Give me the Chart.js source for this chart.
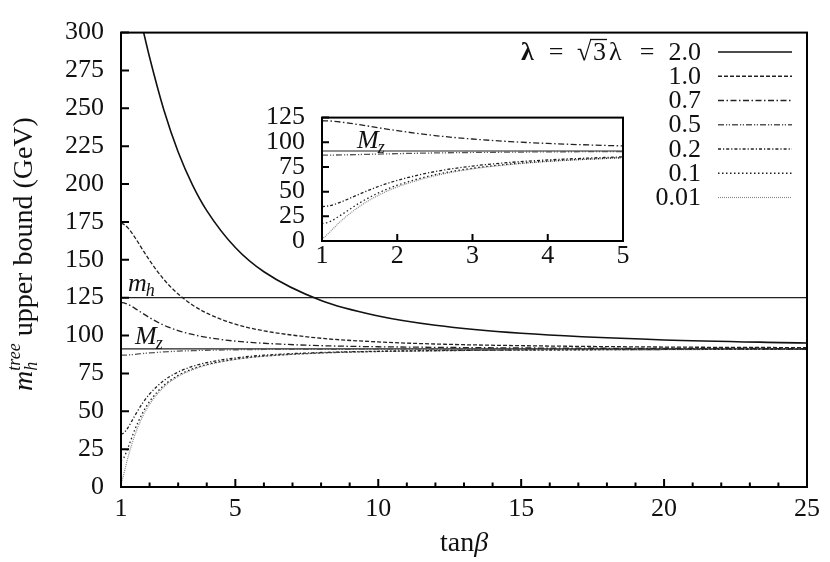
<!DOCTYPE html>
<html>
<head>
<meta charset="utf-8">
<script src="https://cdn.jsdelivr.net/npm/chart.js@4.4.1/dist/chart.umd.min.js"></script>
<style>
  html, body { margin: 0; padding: 0; background: #fff; }
  #wrap { position: relative; width: 830px; height: 562px; }
  #mainChart { position: absolute; left: 0; top: 0; }
  #insetChart { position: absolute; left: 250px; top: 85px; }
</style>
</head>
<body>
<div id="wrap">
  <canvas id="mainChart" width="830" height="562"></canvas>
  <canvas id="insetChart" width="390" height="190"></canvas>
</div>
<script>
'use strict'
// tree level upper bound of m_h vs tan(beta), one curve per lambda

const tanBeta = [1, 1.1, 1.25, 1.5, 1.75, 2, 2.5, 3, 3.5, 4, 5, 6, 8, 10, 12, 15, 20, 25];
const lambdaLabels = ['2.0', '1.0', '0.7', '0.5', '0.2', '0.1', '0.01'];

const bound20 = [348, 346.5, 340.1, 323.1, 303.4, 283.7, 248.9, 221.2, 199.5, 182.5, 158.1, 142.1, 123.1, 112.9, 106.8, 101.5, 97.1, 95.1];
const bound10 = [174.0, 173.4, 170.9, 164.4, 156.9, 149.6, 137.0, 127.4, 120.2, 114.8, 107.5, 103.1, 98.2, 95.8, 94.4, 93.3, 92.4, 92.0];
const bound07 = [121.8, 121.6, 120.5, 117.8, 114.7, 111.8, 106.8, 103.3, 100.7, 98.8, 96.3, 94.9, 93.3, 92.6, 92.2, 91.8, 91.5, 91.4];
const bound05 = [87.0, 87.0, 87.2, 87.6, 88.1, 88.5, 89.2, 89.7, 90.0, 90.3, 90.6, 90.8, 90.9, 91.0, 91.1, 91.1, 91.2, 91.2];
const bound02 = [34.8, 35.7, 39.4, 47.6, 55.2, 61.4, 70.3, 75.9, 79.6, 82.1, 85.2, 87.0, 88.8, 89.6, 90.1, 90.5, 90.8, 90.9];
const bound01 = [17.4, 19.4, 26.2, 38.6, 48.7, 56.5, 67.1, 73.7, 78.0, 80.9, 84.4, 86.4, 88.5, 89.5, 90.0, 90.4, 90.8, 90.9];
const bound001 = [1.7, 8.8, 20.1, 35.1, 46.3, 54.7, 66.0, 73.0, 77.4, 80.5, 84.2, 86.3, 88.4, 89.4, 89.9, 90.4, 90.7, 90.9];
const seriesValues = [bound20, bound10, bound07, bound05, bound02, bound01, bound001];

const MH = 125;     // m_h line
const MZ = 91.19;   // M_z line

const xMajorTicks = [1, 5, 10, 15, 20, 25];
const yTicks = [0, 25, 50, 75, 100, 125, 150, 175, 200, 225, 250, 275, 300];
const insetXTicks = [1, 2, 3, 4, 5];
const insetYTicks = [0, 25, 50, 75, 100, 125];
const insetLabels = ['0.7', '0.5', '0.2', '0.1', '0.01']; // curves shown in the zoom box

// styles
const serif = "'Liberation Serif', 'Times New Roman', serif";
const lineStyles = [
    { color: '#111', width: 1.6, dash: [] },
    { color: '#222', width: 1.3, dash: [4, 2] },
    { color: '#222', width: 1.3, dash: [6, 2.5, 1.5, 2.5] },
    { color: '#555', width: 1.3, dash: [6, 2, 1.2, 1.6, 1.2, 2] },
    { color: '#222', width: 1.3, dash: [3, 2, 1.2, 2] },
    { color: '#222', width: 1.3, dash: [1.5, 2.5] },
    { color: '#888', width: 1.2, dash: [1, 1] }
];

function pointsOf(values) {
    return tanBeta.map((t, i) => ({ x: t, y: values[i] }));
}

function curveDataset(i) {
    let st = lineStyles[i];
    return {
        label: lambdaLabels[i],
        data: pointsOf(seriesValues[i]),
        borderColor: st.color,
        borderWidth: st.width,
        borderDash: st.dash,
        pointRadius: 0,
        fill: false,
        cubicInterpolationMode: 'monotone'
    };
}

function flatLine(value, from, to) {
    return {
        label: 'ref',
        data: [{ x: from, y: value }, { x: to, y: value }],
        borderColor: '#222',
        borderWidth: 1.1,
        pointRadius: 0,
        fill: false
    };
}

// italic symbol with a subscript (m_h, M_z)
function drawSub(ctx, base, sub, x, y) {
    ctx.font = 'italic 26px ' + serif;
    ctx.textAlign = 'left';
    ctx.textBaseline = 'alphabetic';
    ctx.fillText(base, x, y);
    let w = ctx.measureText(base).width;
    ctx.font = 'italic 18px ' + serif;
    ctx.fillText(sub, x + w - 1, y + 5);
}

function drawFrame(ctx, a, x, y, yVals, xVals, majorLen, minorLen, isMajor) {
    ctx.save();
    ctx.strokeStyle = '#000';
    ctx.lineWidth = 2;
    ctx.strokeRect(a.left, a.top, a.right - a.left, a.bottom - a.top);
    ctx.beginPath();
    for (let v of yVals) {
        let py = y.getPixelForValue(v);
        ctx.moveTo(a.left, py);
        ctx.lineTo(a.left + majorLen, py);
    }
    for (let t of xVals) {
        let px = x.getPixelForValue(t);
        let len = isMajor(t) ? majorLen : minorLen;
        ctx.moveTo(px, a.bottom);
        ctx.lineTo(px, a.bottom - len);
    }
    ctx.stroke();
    ctx.restore();
}

const mainDecor = {
    id: 'mainDecor',
    afterDatasetsDraw(chart) {
        let ctx = chart.ctx;
        let a = chart.chartArea;
        let x = chart.scales.x;
        let y = chart.scales.y;

        let minor = [];
        for (let t = xMajorTicks[0] + 1; t < xMajorTicks[xMajorTicks.length - 1]; t++) minor.push(t);
        drawFrame(ctx, a, x, y, yTicks, minor, 8, 4.5, t => xMajorTicks.includes(t));

        ctx.save();
        ctx.fillStyle = '#111';
        // labels on the reference lines
        drawSub(ctx, 'm', 'h', a.left + 7, y.getPixelForValue(MH) - 7);
        drawSub(ctx, 'M', 'z', a.left + 14, y.getPixelForValue(MZ) - 5);

        // x title
        ctx.font = '28px ' + serif;
        let wTan = ctx.measureText('tan').width;
        ctx.font = 'italic 28px ' + serif;
        let wB = ctx.measureText('β').width;
        let cx = (a.left + a.right) / 2 - (wTan + wB) / 2;
        ctx.textAlign = 'left';
        ctx.textBaseline = 'alphabetic';
        ctx.font = '28px ' + serif;
        ctx.fillText('tan', cx, 551);
        ctx.font = 'italic 28px ' + serif;
        ctx.fillText('β', cx + wTan, 551);

        // y title, rotated
        ctx.save();
        ctx.translate(32, 254);
        ctx.rotate(-Math.PI / 2);
        ctx.font = 'italic 28px ' + serif;
        let wm = ctx.measureText('m').width;
        ctx.font = 'italic 18px ' + serif;
        let wsup = ctx.measureText('tree').width;
        ctx.font = '28px ' + serif;
        let rest = ' upper bound (GeV)';
        let wr = ctx.measureText(rest).width;
        let sx = -(wm + wsup + wr) / 2;
        ctx.font = 'italic 28px ' + serif;
        ctx.fillText('m', sx, 0);
        ctx.font = 'italic 18px ' + serif;
        ctx.fillText('tree', sx + wm, -12);
        ctx.fillText('h', sx + wm, 5);
        ctx.font = '28px ' + serif;
        ctx.fillText(rest, sx + wm + wsup, 0);
        ctx.restore();

        // legend
        let right = 701;
        let base0 = 59.5;
        let step = 24.25;
        chart.data.datasets.forEach((ds, i) => {
            if (ds.label === 'ref') return;
            let by = base0 + i * step;
            ctx.font = '26px ' + serif;
            ctx.textAlign = 'right';
            ctx.fillStyle = '#111';
            ctx.fillText(ds.label, right, by);
            ctx.save();
            ctx.strokeStyle = ds.borderColor;
            ctx.lineWidth = ds.borderWidth;
            ctx.setLineDash(ds.borderDash || []);
            ctx.beginPath();
            ctx.moveTo(718, by - 7.5);
            ctx.lineTo(792, by - 7.5);
            ctx.stroke();
            ctx.restore();
        });
        // prefix of the first row: bold lambda = sqrt(3) lambda =
        ctx.textAlign = 'left';
        ctx.font = 'bold 26px ' + serif;
        ctx.fillText('λ', 521, base0);
        ctx.font = '26px ' + serif;
        ctx.textAlign = 'center';
        ctx.fillText('=', 556, base0);
        ctx.fillText('=', 647, base0);
        ctx.textAlign = 'left';
        ctx.fillText('√', 577, base0);
        ctx.fillText('3', 593, base0);
        ctx.fillText('λ', 609, base0);
        ctx.strokeStyle = '#111';
        ctx.lineWidth = 1.3;
        ctx.beginPath();
        ctx.moveTo(590, base0 - 20);
        ctx.lineTo(607, base0 - 20);
        ctx.stroke();
        ctx.restore();
    }
};

const insetDecor = {
    id: 'insetDecor',
    beforeDatasetsDraw(chart) {
        let a = chart.chartArea;
        chart.ctx.save();
        chart.ctx.fillStyle = '#fff';
        chart.ctx.fillRect(a.left, a.top, a.right - a.left, a.bottom - a.top);
        chart.ctx.restore();
    },
    afterDatasetsDraw(chart) {
        let ctx = chart.ctx;
        let a = chart.chartArea;
        let x = chart.scales.x;
        let y = chart.scales.y;
        drawFrame(ctx, a, x, y, insetYTicks, insetXTicks.slice(1, -1), 7, 7, () => true);
        ctx.save();
        ctx.fillStyle = '#111';
        drawSub(ctx, 'M', 'z', a.left + 35, y.getPixelForValue(MZ) - 3);
        ctx.restore();
    }
};

function axisOpts(min, max, ticks, width, height, pad) {
    return {
        type: 'linear',
        min: min,
        max: max,
        grid: { display: false, drawTicks: false },
        border: { display: false },
        afterBuildTicks: s => { s.ticks = ticks.map(v => ({ value: v })); },
        afterFit: s => {
            if (width) s.width = width;
            if (height) s.height = height;
        },
        ticks: {
            color: '#111',
            padding: pad,
            maxRotation: 0,
            autoSkip: false,
            font: { family: serif, size: 26 }
        }
    };
}

const common = {
    responsive: false,
    animation: false,
    events: [],
    plugins: { legend: { display: false }, tooltip: { enabled: false } }
};

let mainDatasets = seriesValues.map((v, i) => curveDataset(i));
mainDatasets.push(flatLine(MH, 1, 25));
mainDatasets.push(flatLine(MZ, 1, 25));

new Chart(document.getElementById('mainChart'), {
    type: 'line',
    data: { datasets: mainDatasets },
    options: Object.assign({}, common, {
        layout: { padding: { left: 0, right: 23, top: 26, bottom: 0 } },
        scales: {
            x: axisOpts(1, 25, xMajorTicks, 0, 75, 7),
            y: axisOpts(0, 300, yTicks, 121, 0, 17)
        }
    }),
    plugins: [mainDecor]
});

let insetDatasets = [];
lambdaLabels.forEach((lab, i) => {
    if (insetLabels.includes(lab)) insetDatasets.push(curveDataset(i));
});
insetDatasets.push(flatLine(MZ, 1, 5));

new Chart(document.getElementById('insetChart'), {
    type: 'line',
    data: { datasets: insetDatasets },
    options: Object.assign({}, common, {
        layout: { padding: { left: 0, right: 17, top: 14, bottom: 0 } },
        scales: {
            x: axisOpts(1, 5, insetXTicks, 0, 34, 0),
            y: axisOpts(0, 125, insetYTicks, 72, 0, 17)
        }
    }),
    plugins: [insetDecor]
});
</script>
</body>
</html>
